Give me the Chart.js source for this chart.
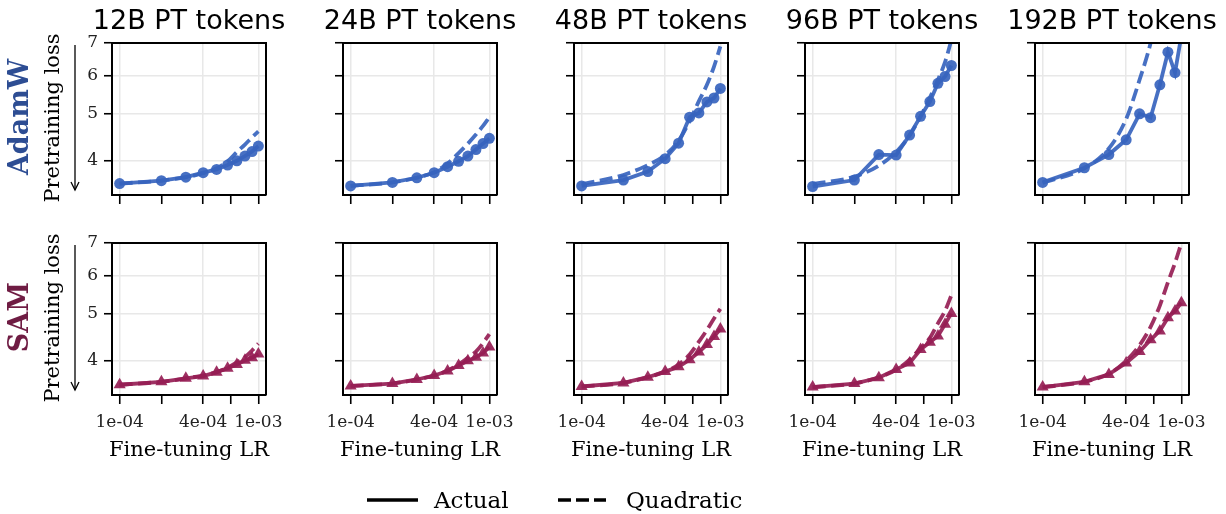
<!DOCTYPE html>
<html>
<head>
<meta charset="utf-8">
<script src="https://cdn.jsdelivr.net/npm/chart.js@4.4.1/dist/chart.umd.min.js"></script>
<style>
  html, body { margin: 0; padding: 0; background: #fff; }
  #wrap { position: relative; width: 1226px; height: 514px; overflow: hidden; }
  canvas.panel { position: absolute; }
  .txt { position: absolute; white-space: nowrap; color: #000; line-height: 1; }
  .serif { font-family: "DejaVu Serif", serif; }
  .sans { font-family: "DejaVu Sans", sans-serif; }
  .center { transform: translate(-50%, -50%); }
  .vert { transform: translate(-50%, -50%) rotate(-90deg); }
  svg.overlay { position: absolute; left: 0; top: 0; }
</style>
</head>
<body>
<div id="wrap"></div>
<script>
// Fine-tuning learning rates (x values shared by every panel)
const lrValues = [1e-4, 2e-4, 3e-4, 4e-4, 5e-4, 6e-4, 7e-4, 8e-4, 9e-4, 1e-3];

// Column titles and row names
const tokenLabels = ['12B PT tokens', '24B PT tokens', '48B PT tokens', '96B PT tokens', '192B PT tokens'];
const optimizerLabels = ['AdamW', 'SAM'];

// Axis ticks
const xTickValues = [1e-4, 2e-4, 4e-4, 6.3e-4, 1e-3];
const xTickLabels = ['1e-04', '', '4e-04', '', '1e-03'];
const xGridValues = [1e-4, 4e-4, 1e-3];
const yTickValues = [4, 5, 6, 7];
const yTickLabels = ['4', '5', '6', '7'];

// AdamW pretraining loss: measured and quadratic fit
const adamw12Actual = [3.59, 3.64, 3.70, 3.78, 3.84, 3.92, 4.00, 4.09, 4.18, 4.29];
const adamw12Quad   = [3.59, 3.64, 3.70, 3.77, 3.86, 3.99, 4.17, 4.32, 4.47, 4.60];
const adamw24Actual = [3.55, 3.61, 3.69, 3.78, 3.89, 3.99, 4.09, 4.22, 4.34, 4.45];
const adamw24Quad   = [3.55, 3.61, 3.69, 3.79, 3.95, 4.15, 4.34, 4.53, 4.72, 4.92];
const adamw48Actual = [3.55, 3.65, 3.80, 4.04, 4.35, 4.92, 5.02, 5.29, 5.39, 5.64];
const adamw48Quad   = [3.58, 3.74, 3.92, 4.11, 4.40, 4.83, 5.31, 5.74, 6.26, 6.89];
const adamw96Actual = [3.54, 3.65, 4.12, 4.11, 4.52, 4.94, 5.30, 5.78, 5.97, 6.29];
const adamw96Quad   = [3.58, 3.71, 3.91, 4.17, 4.51, 4.94, 5.40, 5.88, 6.39, 7.10];
const adamw192Actual = [3.61, 3.87, 4.12, 4.42, 5.00, 4.91, 5.74, 6.70, 6.08, 7.25];
const adamw192Quad   = [3.60, 3.86, 4.24, 4.88, 5.88, 7.00, 8.60, 10.4, 12.6, 15.2];

// SAM pretraining loss: measured and quadratic fit
const sam12Actual = [3.57, 3.62, 3.68, 3.72, 3.79, 3.86, 3.93, 4.01, 4.06, 4.13];
const sam12Quad   = [3.57, 3.62, 3.68, 3.73, 3.79, 3.87, 3.97, 4.07, 4.20, 4.34];
const sam24Actual = [3.55, 3.59, 3.66, 3.73, 3.81, 3.91, 4.00, 4.07, 4.15, 4.27];
const sam24Quad   = [3.55, 3.59, 3.66, 3.73, 3.82, 3.93, 4.06, 4.18, 4.35, 4.54];
const sam48Actual = [3.54, 3.60, 3.70, 3.80, 3.89, 4.02, 4.17, 4.32, 4.49, 4.65];
const sam48Quad   = [3.54, 3.60, 3.70, 3.80, 3.93, 4.12, 4.38, 4.63, 4.89, 5.12];
const sam96Actual = [3.53, 3.59, 3.69, 3.84, 3.96, 4.22, 4.37, 4.50, 4.76, 5.01];
const sam96Quad   = [3.53, 3.59, 3.70, 3.83, 4.02, 4.25, 4.46, 4.78, 5.07, 5.46];
const sam192Actual = [3.53, 3.62, 3.75, 3.96, 4.18, 4.42, 4.61, 4.91, 5.07, 5.27];
const sam192Quad   = [3.53, 3.62, 3.76, 4.00, 4.31, 4.70, 5.20, 5.81, 6.37, 7.00];

const panelSeries = [
  [[adamw12Actual, adamw12Quad], [adamw24Actual, adamw24Quad], [adamw48Actual, adamw48Quad], [adamw96Actual, adamw96Quad], [adamw192Actual, adamw192Quad]],
  [[sam12Actual, sam12Quad], [sam24Actual, sam24Quad], [sam48Actual, sam48Quad], [sam96Actual, sam96Quad], [sam192Actual, sam192Quad]]
];

// Layout of the 2x5 grid (plot-area boxes in page pixels)
const colLefts = [112, 343, 574, 805, 1035];
const rowTops = [43, 243];
const PLOT_W = 154, PLOT_H = 152;
const PAD_L = 112, PAD_T = 43, PAD_R = 40, PAD_B = 60;

const X_MIN = Math.pow(10, -4.055), X_MAX = Math.pow(10, -2.945);
const Y_MIN = 3.43, Y_MAX = 7.0;

const rowStyle = [
  { line: 'rgba(55,100,190,0.92)', label: '#2d4d93', marker: 'circle', radius: 5.5 },
  { line: 'rgba(150,30,85,0.92)', label: '#6f1c43', marker: 'triangle', radius: 7 }
];

const SERIF = '"DejaVu Serif", serif';
const wrap = document.getElementById('wrap');

// Top and right spines (Chart.js draws only the axis-side borders)
const framePlugin = {
  id: 'frame',
  afterDraw(chart) {
    const a = chart.chartArea, ctx = chart.ctx;
    ctx.save();
    ctx.strokeStyle = '#000';
    ctx.lineWidth = 2;
    ctx.beginPath();
    ctx.moveTo(a.left, a.top);
    ctx.lineTo(a.right, a.top);
    ctx.lineTo(a.right, a.bottom);
    ctx.stroke();
    ctx.restore();
  }
};

function addText(text, cls, x, y, size, extra) {
  const d = document.createElement('div');
  d.className = 'txt ' + cls;
  d.textContent = text;
  d.style.left = x + 'px';
  d.style.top = y + 'px';
  d.style.fontSize = size + 'px';
  if (extra) Object.assign(d.style, extra);
  wrap.appendChild(d);
  return d;
}

for (let r = 0; r < 2; r++) {
  for (let c = 0; c < 5; c++) {
    const [actual, quad] = panelSeries[r][c];
    const st = rowStyle[r];
    const cv = document.createElement('canvas');
    cv.className = 'panel';
    const cw = PAD_L + PLOT_W + PAD_R, ch = PAD_T + PLOT_H + PAD_B;
    cv.width = cw; cv.height = ch;
    cv.style.width = cw + 'px'; cv.style.height = ch + 'px';
    cv.style.left = (colLefts[c] - PAD_L) + 'px';
    cv.style.top = (rowTops[r] - PAD_T) + 'px';
    wrap.appendChild(cv);

    new Chart(cv.getContext('2d'), {
      type: 'line',
      data: {
        datasets: [
          {
            label: 'Quadratic',
            data: lrValues.map((x, i) => ({ x, y: quad[i] })),
            borderColor: st.line,
            borderWidth: 3.8,
            borderDash: [13, 5.5],
            pointRadius: 0,
            fill: false,
            cubicInterpolationMode: 'monotone',
            order: 2
          },
          {
            label: 'Actual',
            data: lrValues.map((x, i) => ({ x, y: actual[i] })),
            borderColor: st.line,
            backgroundColor: st.line,
            borderWidth: 3.8,
            pointStyle: st.marker,
            pointRadius: st.radius,
            pointBorderWidth: 0,
            fill: false,
            tension: 0,
            order: 1
          }
        ]
      },
      options: {
        responsive: false,
        maintainAspectRatio: false,
        animation: false,
        layout: { padding: { top: PAD_T, right: PAD_R, left: 0, bottom: 0 } },
        plugins: { legend: { display: false }, tooltip: { enabled: false }, title: { display: false } },
        scales: {
          x: {
            type: 'logarithmic',
            min: X_MIN, max: X_MAX,
            afterBuildTicks(s) { s.ticks = xTickValues.map(v => ({ value: v })); },
            afterFit(s) { s.height = PAD_B; s.paddingLeft = 0; s.paddingRight = 0; },
            ticks: {
              autoSkip: false, maxRotation: 0, minRotation: 0, padding: 8,
              color: '#222', font: { family: SERIF, size: 17 },
              callback(v, i) { return r === 1 ? xTickLabels[i] : ''; }
            },
            grid: {
              color(ctx) { return ctx.tick && xGridValues.some(g => Math.abs(g - ctx.tick.value) < 1e-9) ? '#e8e8e8' : 'rgba(0,0,0,0)'; },
              lineWidth: 1.5, tickColor: '#000', tickLength: 9, tickWidth: 1.6, drawTicks: true
            },
            border: { display: true, color: '#000', width: 2 }
          },
          y: {
            type: 'logarithmic',
            min: Y_MIN, max: Y_MAX,
            afterBuildTicks(s) { s.ticks = yTickValues.map(v => ({ value: v })); },
            afterFit(s) { s.width = PAD_L; s.paddingTop = 0; s.paddingBottom = 0; },
            ticks: {
              autoSkip: false, padding: 6,
              color: '#222', font: { family: SERIF, size: 17 },
              callback(v, i) { return c === 0 ? yTickLabels[i] : ''; }
            },
            grid: {
              color: '#e8e8e8', lineWidth: 1.5, tickColor: '#000', tickLength: 8, tickWidth: 1.6, drawTicks: true
            },
            border: { display: true, color: '#000', width: 2 }
          }
        }
      },
      plugins: [framePlugin]
    });
  }
}

// Column titles
tokenLabels.forEach((t, c) => addText(t, 'sans center', colLefts[c] + PLOT_W / 2, 19, 27));

// x-axis titles under the bottom row
colLefts.forEach(x => addText('Fine-tuning LR', 'serif center', x + PLOT_W / 2, 449, 21));

// Row labels and y-axis titles
optimizerLabels.forEach((t, r) => {
  const cy = rowTops[r] + PLOT_H / 2 - 2;
  addText(t, 'serif vert', 18, cy, 27, { fontWeight: 'bold', color: rowStyle[r].label });
  addText('Pretraining loss', 'serif vert', 52, cy + 1, 21);
});

// Downward arrows beside the y-axis titles, plus legend line samples
const svgNS = 'http://www.w3.org/2000/svg';
const svg = document.createElementNS(svgNS, 'svg');
svg.setAttribute('class', 'overlay');
svg.setAttribute('width', 1226);
svg.setAttribute('height', 514);
let svgBody = '';
rowTops.forEach(t => {
  const y1 = t + 2, y2 = t + PLOT_H - 5;
  svgBody += `<line x1="75" y1="${y1}" x2="75" y2="${y2}" stroke="#000" stroke-width="1.3"/>`;
  svgBody += `<polyline points="71,${y2 - 8} 75,${y2} 79,${y2 - 8}" fill="none" stroke="#000" stroke-width="1.3"/>`;
});
svgBody += `<line x1="367" y1="500" x2="418" y2="500" stroke="#000" stroke-width="3.3"/>`;
svgBody += `<line x1="558" y1="500" x2="606" y2="500" stroke="#000" stroke-width="3.3" stroke-dasharray="13 5"/>`;
svg.innerHTML = svgBody;
wrap.appendChild(svg);

// Legend labels
addText('Actual', 'serif', 434, 500, 23, { transform: 'translateY(-50%)' });
addText('Quadratic', 'serif', 626, 500, 23, { transform: 'translateY(-50%)' });
</script>
</body>
</html>
